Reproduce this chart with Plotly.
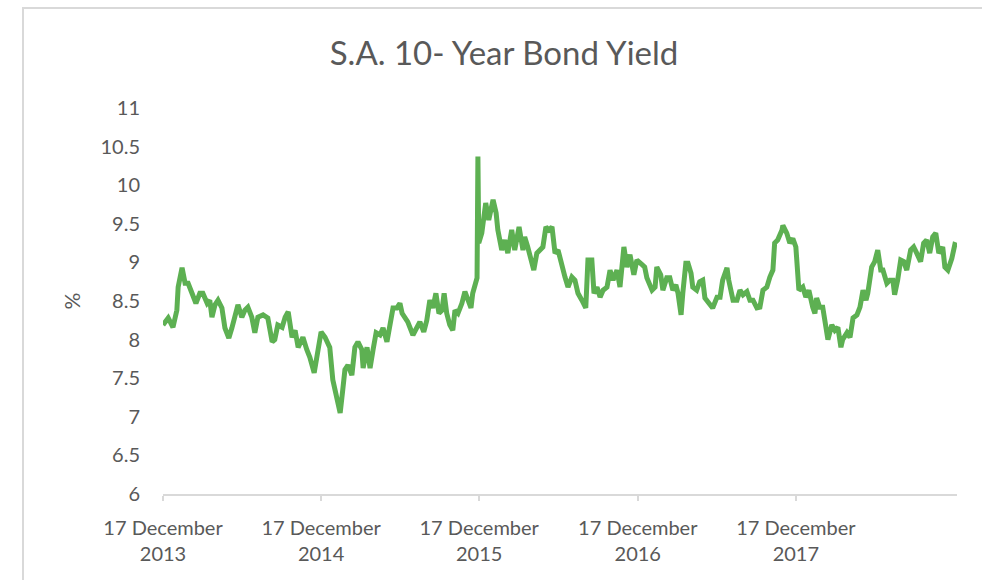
import pandas as pd
import plotly.graph_objects as go

# Days elapsed since 17 December 2013 and the matching yield (%)
days = [0, 12, 23, 32, 35, 44, 51, 58, 67, 76, 85, 92, 102, 108, 113, 120, 127, 136, 143, 152,
        159, 166, 173, 182, 189, 196, 205, 212, 219, 231, 242, 252, 258, 265, 275, 282, 289, 298, 305, 312,
        323, 332, 339, 349, 355, 365, 374, 385, 392, 402, 409, 415, 420, 427, 436, 443, 450, 459, 462, 471,
        478, 485, 492, 501, 508, 517, 524, 531, 540, 547, 552, 559, 565, 577, 586, 593, 602, 609, 616, 623,
        630, 637, 644, 649, 655, 662, 669, 674, 681, 690, 697, 704, 711, 715, 722, 725, 727, 729, 736, 741,
        745, 752, 762, 769, 773, 782, 789, 796, 805, 812, 822, 831, 835, 842, 852, 856, 863, 870, 877, 884,
        891, 898, 905, 912, 921, 928, 935, 944, 951, 958, 967, 976, 981, 990, 995, 1002, 1009, 1016, 1025, 1032,
        1039, 1048, 1055, 1064, 1071, 1078, 1087, 1094, 1106, 1112, 1117, 1129, 1136, 1140, 1149, 1154, 1163, 1170, 1177, 1184,
        1189, 1196, 1200, 1207, 1212, 1219, 1223, 1232, 1239, 1246, 1251, 1258, 1269, 1279, 1286, 1292, 1302, 1306, 1316, 1325,
        1332, 1339, 1348, 1355, 1362, 1371, 1378, 1385, 1394, 1401, 1408, 1412, 1419, 1429, 1431, 1440, 1447, 1454, 1461, 1468,
        1477, 1484, 1491, 1500, 1505, 1509, 1516, 1523, 1530, 1535, 1544, 1551, 1558, 1565, 1569, 1579, 1586, 1593, 1602, 1609,
        1616, 1623, 1627, 1636, 1643, 1650, 1657, 1662, 1671, 1678, 1685, 1689, 1696, 1703, 1710, 1717, 1726, 1733, 1740, 1749,
        1756, 1763, 1770, 1777, 1784, 1791, 1800, 1805, 1812, 1821, 1828, 1833]

yields = [8.19, 8.28, 8.16, 8.38, 8.68, 8.93, 8.73, 8.73, 8.60, 8.47, 8.60, 8.60, 8.47, 8.51, 8.29, 8.45, 8.51, 8.41, 8.15, 8.02,
          8.15, 8.34, 8.45, 8.29, 8.38, 8.42, 8.29, 8.09, 8.29, 8.32, 8.28, 7.97, 8.00, 8.19, 8.16, 8.29, 8.36, 8.03, 8.12, 7.90,
          8.03, 7.87, 7.77, 7.57, 7.77, 8.10, 8.03, 7.90, 7.48, 7.26, 7.05, 7.35, 7.61, 7.67, 7.54, 7.90, 7.97, 7.87, 7.63, 7.90,
          7.63, 7.87, 8.09, 8.06, 8.15, 7.97, 8.16, 8.41, 8.41, 8.47, 8.34, 8.29, 8.23, 8.06, 8.16, 8.23, 8.10, 8.25, 8.51, 8.41,
          8.60, 8.34, 8.38, 8.60, 8.34, 8.19, 8.12, 8.38, 8.34, 8.47, 8.62, 8.51, 8.41, 8.60, 8.73, 8.80, 10.37, 9.25, 9.38, 9.59,
          9.77, 9.55, 9.81, 9.64, 9.42, 9.16, 9.29, 9.12, 9.42, 9.16, 9.46, 9.16, 9.33, 9.20, 8.99, 8.90, 9.12, 9.16, 9.20, 9.46,
          9.42, 9.46, 9.12, 9.16, 8.94, 8.81, 8.68, 8.81, 8.77, 8.60, 8.51, 8.41, 9.03, 9.03, 8.60, 8.68, 8.55, 8.64, 8.68, 8.90,
          8.77, 8.90, 8.68, 9.20, 8.94, 9.10, 8.84, 9.03, 8.97, 8.94, 8.80, 8.64, 8.68, 8.94, 8.84, 8.64, 8.80, 8.80, 8.64, 8.71,
          8.60, 8.32, 8.60, 8.99, 8.99, 8.86, 8.68, 8.64, 8.75, 8.77, 8.54, 8.49, 8.41, 8.55, 8.55, 8.77, 8.93, 8.77, 8.51, 8.51,
          8.64, 8.58, 8.62, 8.51, 8.51, 8.41, 8.42, 8.64, 8.68, 8.81, 8.90, 9.25, 9.29, 9.42, 9.48, 9.38, 9.25, 9.31, 9.20, 8.64,
          8.68, 8.55, 8.64, 8.42, 8.34, 8.54, 8.42, 8.42, 8.12, 8.00, 8.19, 8.12, 8.16, 7.90, 8.00, 8.09, 8.03, 8.28, 8.32, 8.42,
          8.64, 8.51, 8.60, 8.94, 9.01, 9.16, 8.90, 8.90, 8.73, 8.77, 8.77, 8.58, 8.77, 9.03, 9.01, 8.90, 9.16, 9.20, 9.12, 9.01,
          9.25, 9.29, 9.12, 9.33, 9.38, 9.12, 9.20, 8.94, 8.90, 9.05, 9.23, 9.22]

start_date = "2013-12-17"
tick_dates = ["2013-12-17", "2014-12-17", "2015-12-17", "2016-12-17", "2017-12-17"]
tick_labels = ["17 December<br>2013", "17 December<br>2014", "17 December<br>2015",
               "17 December<br>2016", "17 December<br>2017"]
y_ticks = [6, 6.5, 7, 7.5, 8, 8.5, 9, 9.5, 10, 10.5, 11]
y_tick_labels = ["6", "6.5", "7", "7.5", "8", "8.5", "9", "9.5", "10", "10.5", "11"]

dates = pd.Timestamp(start_date) + pd.to_timedelta(days, unit="D")

FONT = "Lato, 'Open Sans', sans-serif"
GREY = "#595959"

fig = go.Figure()
fig.add_trace(go.Scatter(x=dates, y=yields, mode="lines",
                         line=dict(color="#5DB052", width=5), hoverinfo="x+y"))

L, R, T, B = 163, 25, 108, 86
W, H = 982, 580
pw = W - L - R
ph = H - T - B

fig.update_layout(
    width=W, height=H,
    margin=dict(l=L, r=R, t=T, b=B),
    paper_bgcolor="white", plot_bgcolor="white",
    showlegend=False,
    font=dict(family=FONT, color=GREY),
    title=dict(text="S.A. 10- Year Bond Yield", x=504 / W, xref="container", xanchor="center",
               y=1 - 53 / H, yref="container", yanchor="middle",
               font=dict(size=33, color=GREY, family=FONT)),
    xaxis=dict(type="date", range=[dates[0], dates[-1]],
               tickvals=tick_dates, ticktext=tick_labels,
               showgrid=False, zeroline=False,
               showline=True, linecolor="#d9d9d9", linewidth=1.5,
               ticks="outside", ticklen=5, tickcolor="#d9d9d9", tickwidth=1.5,
               tickfont=dict(size=20, color=GREY, family=FONT),
               ticklabelstandoff=10),
    yaxis=dict(range=[6, 11], tickvals=y_ticks, ticktext=y_tick_labels,
               showgrid=False, zeroline=False, showline=False,
               ticks="", tickfont=dict(size=20, color=GREY, family=FONT),
               ticklabelstandoff=22,
               title=dict(text="%", font=dict(size=21, color=GREY, family=FONT), standoff=14)),
    shapes=[dict(type="rect", xref="paper", yref="paper",
                 x0=(23 - L) / pw, x1=(W + 20 - L) / pw,
                 y0=(H - B - (H + 20)) / ph, y1=(H - B - 8) / ph,
                 line=dict(color="#d9d9d9", width=2), fillcolor="rgba(0,0,0,0)", layer="below")],
)

fig.write_html("out.html")
